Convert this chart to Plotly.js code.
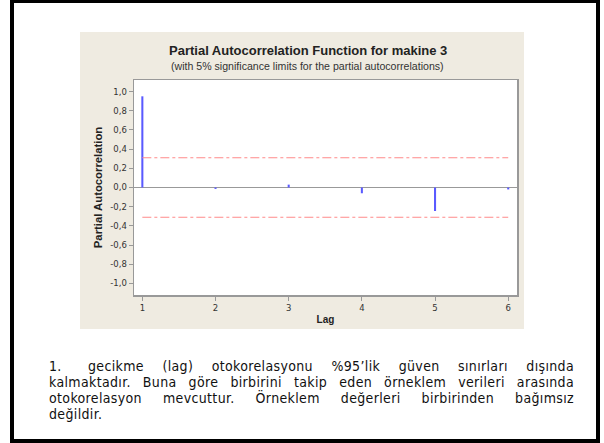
<!DOCTYPE html>
<html>
<head>
<meta charset="utf-8">
<script src="https://cdn.plot.ly/plotly-3.0.1.min.js"></script>
<style>
  html, body { margin:0; padding:0; background:#fff; }
  #page { position:relative; width:604px; height:443px; overflow:hidden; background:#fff; }
  #frame { position:absolute; left:10px; top:0px; width:590px; height:443px; box-sizing:border-box; border:4px solid #000; border-top-width:3px; }
  #chart { position:absolute; left:80px; top:32px; width:444px; height:297px; }
  #para { position:absolute; left:49px; top:358px; width:525px; font-family:"DejaVu Sans Condensed", "DejaVu Sans", Verdana, sans-serif; font-stretch:condensed; font-size:14px; letter-spacing:0.35px; line-height:16px; color:#111; }
  .ln { text-align:justify; text-align-last:justify; white-space:nowrap; }
  .last { text-align:left; text-align-last:left; }
  .first { display:flex; }
  .first .num { width:39px; flex:none; }
  .first .rest { flex:1; text-align:justify; text-align-last:justify; }
</style>
</head>
<body>
<div id="page">
  <div id="frame"></div>
  <div id="chart"></div>
  <div id="para">
    <div class="first"><span class="num">1.</span><span class="rest">gecikme (lag) otokorelasyonu %95’lik güven sınırları dışında</span></div>
    <div class="ln">kalmaktadır. Buna göre birbirini takip eden örneklem verileri arasında</div>
    <div class="ln">otokorelasyon mevcuttur. Örneklem değerleri birbirinden bağımsız</div>
    <div class="ln last">değildir.</div>
  </div>
</div>
<script>
const lags = [1, 2, 3, 4, 5, 6];
const pacf = [0.95, -0.015, 0.03, -0.06, -0.245, -0.02];
const sigLimit = 0.31;
const yTickVals = [1.0, 0.8, 0.6, 0.4, 0.2, 0.0, -0.2, -0.4, -0.6, -0.8, -1.0];
const yTickText = ["1,0", "0,8", "0,6", "0,4", "0,2", "0,0", "-0,2", "-0,4", "-0,6", "-0,8", "-1,0"];
const titleText = "Partial Autocorrelation Function for makine 3";
const subtitleText = "(with 5% significance limits for the partial autocorrelations)";

const limitX = [lags[0], lags[lags.length - 1]];

const traces = [
  {
    type: 'bar', x: lags, y: pacf, width: 0.028,
    marker: { color: '#5a5aff', line: { width: 0 } },
    hoverinfo: 'none'
  },
  {
    type: 'scatter', mode: 'lines', x: limitX, y: [sigLimit, sigLimit],
    line: { color: '#ff8a8a', width: 1, dash: 'dashdot' }, hoverinfo: 'none'
  },
  {
    type: 'scatter', mode: 'lines', x: limitX, y: [-sigLimit, -sigLimit],
    line: { color: '#ff8a8a', width: 1, dash: 'dashdot' }, hoverinfo: 'none'
  }
];

const layout = {
  width: 444, height: 297,
  margin: { l: 54, r: 7, t: 48, b: 34, pad: 0 },
  paper_bgcolor: '#EFEBE1',
  plot_bgcolor: '#ffffff',
  showlegend: false,
  font: { family: '"DejaVu Sans", Verdana, sans-serif', color: '#444', size: 8.5 },
  xaxis: {
    range: [0.886, 6.12],
    tickvals: lags, ticktext: lags.map(String),
    ticks: 'outside', ticklen: 4, tickcolor: '#999', tickwidth: 1,
    showgrid: false, zeroline: false,
    showline: true, linecolor: '#999', linewidth: 1.5, mirror: true,
    tickfont: { size: 8.5, color: '#333' },
    title: { text: '<b>Lag</b>', font: { size: 10, color: '#222', family: '"Liberation Sans", Arial, sans-serif' }, standoff: 4 }
  },
  yaxis: {
    range: [-1.12, 1.12],
    tickvals: yTickVals, ticktext: yTickText,
    ticks: 'outside', ticklen: 4, tickcolor: '#999', tickwidth: 1,
    showgrid: false,
    zeroline: true, zerolinecolor: '#999', zerolinewidth: 1.5,
    showline: true, linecolor: '#999', linewidth: 1.5, mirror: true,
    tickfont: { size: 8.5, color: '#333' },
    title: { text: '<b>Partial Autocorrelation</b>', font: { size: 11.3, color: '#222', family: '"Liberation Sans", Arial, sans-serif' }, standoff: 5 }
  },
  annotations: [
    {
      xref: 'paper', yref: 'paper', x: 0.454, y: 1.135, xanchor: 'center', yanchor: 'middle',
      text: '<b>' + titleText + '</b>', showarrow: false,
      font: { family: '"Liberation Sans", Arial, sans-serif', size: 13, color: '#222' }
    },
    {
      xref: 'paper', yref: 'paper', x: 0.453, y: 1.0665, xanchor: 'center', yanchor: 'middle',
      text: subtitleText, showarrow: false,
      font: { family: '"Liberation Sans", Arial, sans-serif', size: 10.6, color: '#333' }
    }
  ]
};

Plotly.newPlot('chart', traces, layout, { displayModeBar: false, staticPlot: true });
</script>
</body>
</html>
